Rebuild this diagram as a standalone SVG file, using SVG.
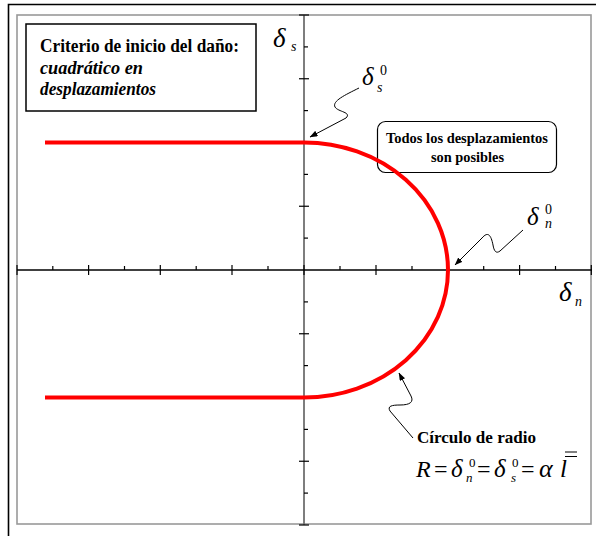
<svg xmlns="http://www.w3.org/2000/svg" width="596" height="536" viewBox="0 0 596 536" font-family="'Liberation Serif', 'Times New Roman', serif">
<defs>
<style>
text{font-family:'Liberation Serif','Times New Roman',serif;fill:#000}
.b{font-weight:bold}
.i{font-style:italic}
.tick{stroke:#000;stroke-width:1.2}
.con{fill:none;stroke:#000;stroke-width:1}
</style>
<marker id="ah" markerWidth="8" markerHeight="6" refX="7.5" refY="3" orient="auto" markerUnits="userSpaceOnUse">
<path d="M0,0 L8,3 L0,6 z" fill="#000"/>
</marker>
</defs>
<rect width="596" height="536" fill="#fff"/>
<g id="frame">
<polyline points="8.5,536 8.5,4.5 596,4.5" fill="none" stroke="#000" stroke-width="1.6"/>
<rect x="17" y="15" width="574" height="509" fill="none" stroke="#999" stroke-width="1.6"/>
</g>
<g id="axes">
<line x1="304" y1="15" x2="304" y2="525" stroke="#707070" stroke-width="1.8"/>
<line x1="17" y1="270" x2="592" y2="270" stroke="#000" stroke-width="1.4"/>
<g class="tick">
<line x1="299" y1="15" x2="309" y2="15"/>
<line x1="299" y1="78.75" x2="309" y2="78.75"/>
<line x1="299" y1="142.5" x2="309" y2="142.5"/>
<line x1="299" y1="206.25" x2="309" y2="206.25"/>
<line x1="299" y1="333.75" x2="309" y2="333.75"/>
<line x1="299" y1="397.5" x2="309" y2="397.5"/>
<line x1="299" y1="461.25" x2="309" y2="461.25"/>
<line x1="299" y1="525" x2="309" y2="525"/>
<line x1="304" y1="46.9" x2="308" y2="46.9"/>
<line x1="304" y1="110.6" x2="308" y2="110.6"/>
<line x1="304" y1="174.4" x2="308" y2="174.4"/>
<line x1="304" y1="238.1" x2="308" y2="238.1"/>
<line x1="304" y1="301.9" x2="308" y2="301.9"/>
<line x1="304" y1="365.6" x2="308" y2="365.6"/>
<line x1="304" y1="429.4" x2="308" y2="429.4"/>
<line x1="304" y1="493.1" x2="308" y2="493.1"/>
<line x1="17" y1="265" x2="17" y2="275"/>
<line x1="88.6" y1="265" x2="88.6" y2="275"/>
<line x1="160.3" y1="265" x2="160.3" y2="275"/>
<line x1="232" y1="265" x2="232" y2="275"/>
<line x1="304" y1="265" x2="304" y2="275"/>
<line x1="376" y1="265" x2="376" y2="275"/>
<line x1="447.8" y1="265" x2="447.8" y2="275"/>
<line x1="519.6" y1="265" x2="519.6" y2="275"/>
<line x1="591.3" y1="265" x2="591.3" y2="275"/>
<line x1="52.8" y1="266" x2="52.8" y2="270"/>
<line x1="124.5" y1="266" x2="124.5" y2="270"/>
<line x1="196.2" y1="266" x2="196.2" y2="270"/>
<line x1="268" y1="266" x2="268" y2="270"/>
<line x1="340" y1="266" x2="340" y2="270"/>
<line x1="412" y1="266" x2="412" y2="270"/>
<line x1="483.7" y1="266" x2="483.7" y2="270"/>
<line x1="555.5" y1="266" x2="555.5" y2="270"/>
</g>
</g>
<g id="axis-label-s">
<text class="i" x="273" y="47" font-size="27">δ</text>
<text class="i" x="291" y="51" font-size="14">s</text>
</g>
<g id="axis-label-n">
<text class="i" x="559" y="301" font-size="27">δ</text>
<text class="i" x="575" y="306" font-size="14">n</text>
</g>
<g id="criterion-box">
<rect x="26" y="24" width="230" height="87" fill="#fff" stroke="#000" stroke-width="1.5"/>
<text class="b" x="40" y="52" font-size="18" textLength="199" lengthAdjust="spacingAndGlyphs">Criterio de inicio del daño:</text>
<text class="b i" x="40" y="73.5" font-size="18" textLength="103" lengthAdjust="spacingAndGlyphs">cuadrático en</text>
<text class="b i" x="40" y="95" font-size="18" textLength="116" lengthAdjust="spacingAndGlyphs">desplazamientos</text>
</g>
<g id="possible-box">
<rect x="377.5" y="121.5" width="179" height="51" rx="8" fill="none" stroke="#000" stroke-width="1.2"/>
<text class="b" x="386" y="142.5" font-size="14" textLength="162" lengthAdjust="spacingAndGlyphs">Todos los desplazamientos</text>
<text class="b" x="431" y="162" font-size="14" textLength="73" lengthAdjust="spacingAndGlyphs">son posibles</text>
</g>
<g id="curve">
<path d="M45,142.5 H304 A144,127.5 0 0 1 448,270 A144,127.5 0 0 1 304,397.5 H45" fill="none" stroke="#ff0000" stroke-width="4" stroke-linejoin="round"/>
</g>
<g id="label-s0">
<text class="i" x="362" y="85" font-size="25">δ</text>
<text x="380" y="75" font-size="14">0</text>
<text class="i" x="377" y="92" font-size="14">s</text>
</g>
<g id="label-n0">
<text class="i" x="527" y="225" font-size="25">δ</text>
<text x="545" y="214" font-size="14">0</text>
<text class="i" x="545" y="227.5" font-size="14">n</text>
</g>
<g id="radius-label">
<text class="b" x="417" y="443" font-size="17" textLength="119" lengthAdjust="spacingAndGlyphs">Círculo de radio</text>
<text class="i" x="416" y="477" font-size="24">R</text>
<text x="434" y="477" font-size="24">=</text>
<text class="i" x="451" y="477" font-size="25">δ</text>
<text x="469" y="467" font-size="13">0</text>
<text class="i" x="466" y="482" font-size="13">n</text>
<text x="477" y="477" font-size="24">=</text>
<text class="i" x="494" y="477" font-size="25">δ</text>
<text x="512" y="467" font-size="13">0</text>
<text class="i" x="511" y="482" font-size="13">s</text>
<text x="521" y="477" font-size="24">=</text>
<text class="i" x="539" y="477" font-size="26">α</text>
<text class="i" x="560" y="477" font-size="25">l</text>
<line x1="565" y1="452" x2="577" y2="452" stroke="#000" stroke-width="1"/>
<line x1="565" y1="456.5" x2="577" y2="456.5" stroke="#000" stroke-width="1"/>
</g>
<g id="connectors">
<path class="con" d="M359,88 C345,95 332,101 335,107 C338,112 352,112 346,118 L310,137" marker-end="url(#ah)"/>
<path class="con" d="M523,230 L500,251 C496,254 494,251 493,245 C491,235 488,231 482,238 L455,265" marker-end="url(#ah)"/>
<path class="con" d="M413,438 L390,411 C387,406 392,405 400,405 C410,405 414,402 411,396 L399,373" marker-end="url(#ah)"/>
</g>
</svg>
